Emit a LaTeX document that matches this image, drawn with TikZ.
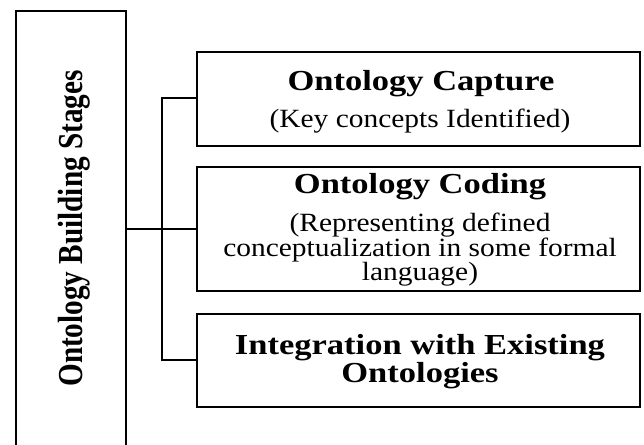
\documentclass[tikz,border=0pt]{standalone}
\usepackage{fontspec}
\usepackage{graphicx}
\setmainfont{Liberation Serif}
\newfontfamily\titlef[FakeStretch=1.19]{Liberation Serif}
\newfontfamily\subf[FakeStretch=1.12]{Liberation Serif}
\begin{document}
\begin{tikzpicture}[x=1pt,y=-1pt,
  boxstyle/.style={draw=black, line width=1.6pt, rectangle, inner sep=0pt},
  conn/.style={draw=black, line width=1.6pt},
  titletxt/.style={anchor=base, inner sep=0pt, font=\titlef\bfseries\fontsize{29}{30}\selectfont},
  subtxt/.style={anchor=base, inner sep=0pt, font=\subf\fontsize{26.3}{27}\selectfont}]
\useasboundingbox (0,0) rectangle (644,444);
\clip (0,0) rectangle (644,444);
% left stage box
\node[boxstyle, minimum width=110pt, minimum height=435pt] (stages) at (71,228.5) {};
\node[rotate=90, anchor=base, inner sep=0pt, font=\bfseries\fontsize{29.2}{30}\selectfont] (stagelbl) at (82,228.5) {\scalebox{1}[1.2]{Ontology Building Stages}};
% right boxes
\node[boxstyle, minimum width=443pt, minimum height=94pt] (c1) at (418.5,99) {};
\node[boxstyle, minimum width=443pt, minimum height=124pt] (c2) at (418.5,229) {};
\node[boxstyle, minimum width=443pt, minimum height=93pt] (c3) at (418.5,360.5) {};
% texts
\node[titletxt] (t1) at (421,90) {Ontology Capture};
\node[subtxt] (s1) at (420,127) {(Key concepts Identified)};
\node[titletxt] (t2) at (420,193) {Ontology Coding};
\node[subtxt] (s2a) at (420,231) {(Representing defined};
\node[subtxt] (s2b) at (420,256) {conceptualization in some formal};
\node[subtxt] (s2c) at (420,280) {language)};
\node[titletxt] (t3a) at (420,354) {Integration with Existing};
\node[titletxt] (t3b) at (420,382) {Ontologies};
% connectors
\coordinate (jtop) at (162,98);
\coordinate (jbot) at (162,360);
\draw[conn] (stages.east |- c2.west) -- (c2.west);
\draw[conn] (c1.west |- jtop) -- (jtop) -- (jbot) -- (c3.west |- jbot);
\end{tikzpicture}
\end{document}
